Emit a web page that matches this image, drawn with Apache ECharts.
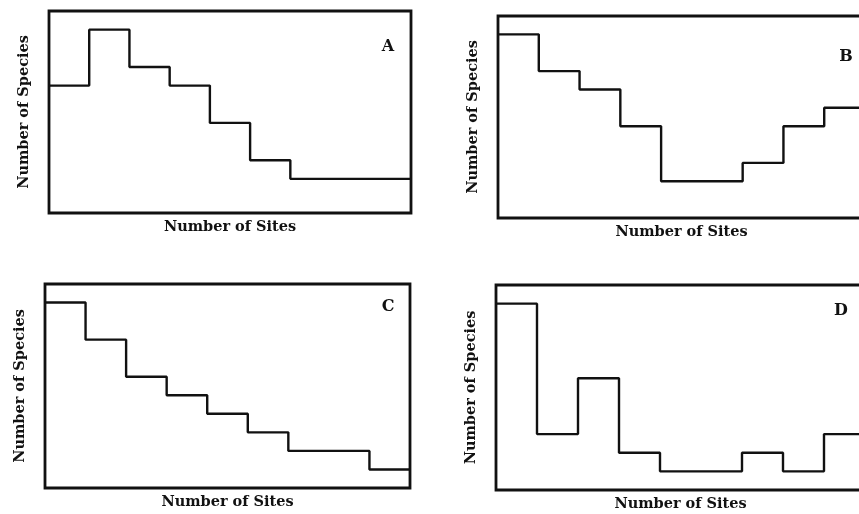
<!DOCTYPE html>
<html>
<head>
<meta charset="utf-8">
<script src="https://cdn.jsdelivr.net/npm/echarts@6/dist/echarts.min.js"></script>
<style>
  html, body { margin: 0; padding: 0; background: #fff; }
  #chart { width: 859px; height: 514px; }
</style>
</head>
<body>
<div id="chart"></div>
<script>
// Species counts per site-count class (nine classes) for the four patterns
const siteClasses = [0, 1, 2, 3, 4, 5, 6, 7, 8];
const speciesA = [7, 10, 8, 7, 5, 3, 2, 2, 2];
const speciesB = [10, 8, 7, 5, 2, 2, 3, 5, 6];
const speciesC = [10, 8, 6, 5, 4, 3, 2, 2, 1];
const speciesD = [10, 3, 6, 2, 1, 1, 2, 1, 3];
const panelLetters = ['A', 'B', 'C', 'D'];
const xTitle = 'Number of Sites';
const yTitle = 'Number of Species';

const seriesValues = [speciesA, speciesB, speciesC, speciesD];

// Panel frames (pixels) and value ranges; the right-hand panels run past the page edge
const panels = [
  { left: 49,  top: 11,  width: 362, height: 202, yMin: 0.17, letter: [388, 47] },
  { left: 498, top: 16,  width: 367, height: 202, yMin: 0,    letter: [846, 57] },
  { left: 45,  top: 284, width: 365, height: 204, yMin: 0,    letter: [388, 307] },
  { left: 496, top: 285, width: 369, height: 205, yMin: 0,    letter: [841, 311] }
];

const FONT = "'DejaVu Serif', 'Liberation Serif', serif";
const INK = '#111';

// Step line: each class drawn as a flat segment, closing at the right edge
function stepData(values) {
  const pts = siteClasses.map((c, i) => [c, values[i]]);
  pts.push([siteClasses.length, values[values.length - 1]]);
  return pts;
}

const grid = [], xAxis = [], yAxis = [], series = [], graphic = [];
panels.forEach((p, i) => {
  grid.push({
    left: p.left, top: p.top, width: p.width, height: p.height,
    outerBoundsMode: 'none', containLabel: false,
    show: true, borderColor: INK, borderWidth: 2.8, backgroundColor: 'transparent'
  });
  xAxis.push({
    gridIndex: i, type: 'value', min: 0, max: siteClasses.length,
    axisLine: { show: false }, axisTick: { show: false },
    axisLabel: { show: false }, splitLine: { show: false },
    name: xTitle, nameLocation: 'middle', nameGap: 7,
    nameTextStyle: { fontFamily: FONT, fontWeight: 'bold', fontSize: 14.5, color: INK, verticalAlign: 'top' }
  });
  yAxis.push({
    gridIndex: i, type: 'value', min: p.yMin, max: 11,
    axisLine: { show: false }, axisTick: { show: false },
    axisLabel: { show: false }, splitLine: { show: false },
    name: yTitle, nameLocation: 'middle', nameGap: 17, nameRotate: 90,
    nameTextStyle: { fontFamily: FONT, fontWeight: 'bold', fontSize: 14.5, color: INK }
  });
  series.push({
    type: 'line', xAxisIndex: i, yAxisIndex: i,
    step: 'end', showSymbol: false, symbol: 'none',
    lineStyle: { color: INK, width: 2.4 },
    data: stepData(seriesValues[i]),
    silent: true
  });
  graphic.push({
    type: 'text', x: p.letter[0], y: p.letter[1],
    style: {
      text: panelLetters[i], fill: INK,
      font: "bold 16px " + FONT, textAlign: 'center', textVerticalAlign: 'middle'
    }
  });
});

const chart = echarts.init(document.getElementById('chart'), null, { renderer: 'canvas' });
chart.setOption({
  animation: false,
  backgroundColor: '#fff',
  grid, xAxis, yAxis, series, graphic
});
</script>
</body>
</html>
